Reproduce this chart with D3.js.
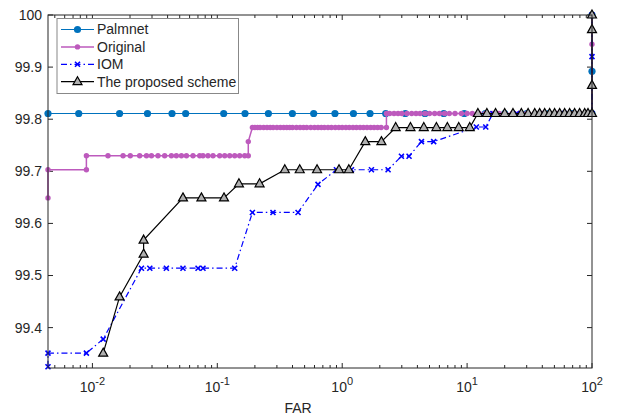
<!DOCTYPE html>
<html>
<head>
<meta charset="utf-8">
<script src="https://cdn.jsdelivr.net/npm/d3@7"></script>
<style>
  body { margin: 0; background: #fff; }
  svg text { font-family: 'Liberation Sans', Arial, sans-serif; fill: #262626; }
</style>
</head>
<body>
<svg id="chart" width="619" height="420"></svg>
<script>
/**
 * FAR curves, log x axis.
 */
const seriesNames = ['Palmnet', 'Original', 'IOM', 'The proposed scheme'];

// Palmnet
const palmX = [0.00441, 0.00777, 0.0165, 0.0276, 0.0434, 0.0558, 0.1125, 0.1667, 0.2565, 0.399, 0.591, 0.875, 1.23, 1.67, 2.23,
    3.2, 4.6, 6.5, 9.5, 14, 20, 30, 45, 70, 100, 100, 100];
const palmY = [99.811, 99.811, 99.811, 99.811, 99.811, 99.811, 99.811, 99.811, 99.811, 99.811, 99.811, 99.811, 99.811, 99.811, 99.811,
    99.811, 99.811, 99.811, 99.811, 99.811, 99.811, 99.811, 99.811, 99.811, 99.811, 99.892, 100];

// Original
const origX = [0.00441, 0.00441, 0.00895, 0.00895, 0.01333, 0.0176, 0.0201, 0.0239, 0.0271, 0.0297, 0.0335, 0.0379, 0.0429, 0.047,
    0.0516, 0.0566, 0.0639, 0.0723, 0.0768, 0.0842, 0.0924, 0.1045, 0.1146, 0.1257, 0.1378, 0.151, 0.1657, 0.177, 0.177,
    0.191, 0.2, 0.21, 0.22, 0.235, 0.25, 0.265, 0.28, 0.3, 0.32, 0.34, 0.36, 0.38, 0.4, 0.43, 0.46, 0.49, 0.52, 0.56, 0.6,
    0.64, 0.68, 0.72, 0.77, 0.82, 0.88, 0.94, 1.0, 1.07, 1.14, 1.22, 1.3, 1.39, 1.48, 1.58, 1.69, 1.8, 1.92, 2.05, 2.26,
    2.26, 2.4, 2.6, 2.8, 3.0, 3.3, 3.6, 3.9, 4.2, 4.6, 5.0, 5.5, 6, 6.6, 7.2, 8, 9, 10, 11, 12.5, 14, 16, 18, 20, 23, 26,
    30, 35, 40, 46, 53, 60, 70, 80, 90, 100, 100, 100];
const origY = [99.649, 99.703, 99.703, 99.73, 99.73, 99.73, 99.73, 99.73, 99.73, 99.73, 99.73, 99.73, 99.73, 99.73,
    99.73, 99.73, 99.73, 99.73, 99.73, 99.73, 99.73, 99.73, 99.73, 99.73, 99.73, 99.73, 99.73, 99.73, 99.757,
    99.784, 99.784, 99.784, 99.784, 99.784, 99.784, 99.784, 99.784, 99.784, 99.784, 99.784, 99.784, 99.784, 99.784, 99.784, 99.784, 99.784, 99.784, 99.784, 99.784,
    99.784, 99.784, 99.784, 99.784, 99.784, 99.784, 99.784, 99.784, 99.784, 99.784, 99.784, 99.784, 99.784, 99.784, 99.784, 99.784, 99.784, 99.784, 99.784, 99.784,
    99.811, 99.811, 99.811, 99.811, 99.811, 99.811, 99.811, 99.811, 99.811, 99.811, 99.811, 99.811, 99.811, 99.811, 99.811, 99.811, 99.811, 99.811, 99.811, 99.811, 99.811, 99.811, 99.811, 99.811, 99.811, 99.811,
    99.811, 99.811, 99.811, 99.811, 99.811, 99.811, 99.811, 99.811, 99.811, 99.811, 99.944, 100];

// IOM
const iomX = [0.00441, 0.00441, 0.00895, 0.0122, 0.0247, 0.0288, 0.0391, 0.0531, 0.0701, 0.0768, 0.1378,
    0.191, 0.279, 0.443, 0.64, 0.899, 1.186, 1.714, 2.33, 2.98, 3.43, 4.31, 5.4, 11.86, 14.1, 16.1,
    25, 40, 60, 100, 100, 100];
const iomY = [99.325, 99.351, 99.351, 99.378, 99.514, 99.514, 99.514, 99.514, 99.514, 99.514, 99.514,
    99.621, 99.621, 99.621, 99.675, 99.703, 99.703, 99.703, 99.703, 99.729, 99.729, 99.757, 99.757, 99.785, 99.785, 99.811,
    99.811, 99.811, 99.811, 99.811, 99.92, 100];

// The proposed scheme
const propX = [0.0122, 0.0165, 0.0257, 0.0257, 0.0531, 0.0746, 0.1131, 0.149, 0.218, 0.347, 0.457, 0.629, 0.943, 1.13,
    1.53, 2.06, 2.68, 3.52, 4.5, 5.68, 6.95, 8.57, 10.5, 12.2, 14.4, 16.9, 20, 23.3, 27.2, 30.8, 34.8, 38.1, 41.8,
    45.8, 50.2, 55.1, 60.4, 66.2, 72.6, 79.6, 87.4, 92.9, 100, 100, 100, 100];
const propY = [99.351, 99.459, 99.541, 99.568, 99.649, 99.649, 99.649, 99.676, 99.676, 99.703, 99.703, 99.703, 99.703, 99.703,
    99.757, 99.757, 99.784, 99.784, 99.784, 99.784, 99.784, 99.784, 99.784, 99.811, 99.811, 99.811, 99.811, 99.811, 99.811, 99.811, 99.811, 99.811, 99.811,
    99.811, 99.811, 99.811, 99.811, 99.811, 99.811, 99.811, 99.811, 99.811, 99.811, 99.865, 99.972, 100];

const yTicks = [99.4, 99.5, 99.6, 99.7, 99.8, 99.9, 100];
const xTicks = [0.01, 0.1, 1, 10, 100];

/**
 * Visual configs.
 */
const margin = { top: 15, right: 27, bottom: 52, left: 48 },
    visWidth = 619, visHeight = 420,
    width = visWidth - margin.left - margin.right,
    height = visHeight - margin.top - margin.bottom;

const xScale = d3.scaleLog().domain([0.00441, 100]).range([0, width]),
    yScale = d3.scaleLinear().domain([99.3225, 100]).range([height, 0]);

const svg = d3.select('#chart');
const g = svg.append('g').attr('transform', 'translate(' + margin.left + ',' + margin.top + ')');

const zip = (xs, ys) => xs.map((x, i) => ({ x: x, y: ys[i] }));
const series = [
    { name: seriesNames[0], data: zip(palmX, palmY), color: '#0072BD', width: 1.2, dash: null, marker: 'circle' },
    { name: seriesNames[1], data: zip(origX, origY), color: '#BD5ABD', width: 1.5, dash: null, marker: 'dot' },
    { name: seriesNames[2], data: zip(iomX, iomY), color: '#0000FF', width: 1.2, dash: '6,3,1.5,3', marker: 'cross' },
    { name: seriesNames[3], data: zip(propX, propY), color: '#000000', width: 1.2, dash: null, marker: 'triangle' }
];

// Ticks (inside, mirrored)
const minor = [];
for (let e = -3; e <= 1; e++) for (let k = 2; k <= 9; k++) {
    const v = k * Math.pow(10, e);
    if (v > 0.00441 && v < 100) minor.push(v);
}
const tickG = g.append('g').attr('stroke', '#262626').attr('stroke-width', 1);
xTicks.forEach(v => {
    const x = xScale(v);
    tickG.append('line').attr('x1', x).attr('x2', x).attr('y1', height).attr('y2', height - 5);
    tickG.append('line').attr('x1', x).attr('x2', x).attr('y1', 0).attr('y2', 5);
});
minor.forEach(v => {
    const x = xScale(v);
    tickG.append('line').attr('x1', x).attr('x2', x).attr('y1', height).attr('y2', height - 3);
    tickG.append('line').attr('x1', x).attr('x2', x).attr('y1', 0).attr('y2', 3);
});
yTicks.forEach(v => {
    const y = yScale(v);
    tickG.append('line').attr('x1', 0).attr('x2', 5).attr('y1', y).attr('y2', y);
    tickG.append('line').attr('x1', width).attr('x2', width - 5).attr('y1', y).attr('y2', y);
});

// Tick labels
g.selectAll('.ylab').data(yTicks).enter().append('text')
    .attr('class', 'ylab')
    .attr('x', -6).attr('y', d => yScale(d)).attr('dy', '0.35em')
    .attr('text-anchor', 'end').attr('font-size', 14)
    .text(d => d === 100 ? '100' : d3.format('.1f')(d));

const xl = g.selectAll('.xlab').data(xTicks).enter().append('text')
    .attr('class', 'xlab')
    .attr('x', d => xScale(d)).attr('y', height + 24)
    .attr('text-anchor', 'middle').attr('font-size', 14);
xl.append('tspan').text('10');
xl.append('tspan').attr('dy', -7).attr('font-size', 11).text(d => String(Math.round(Math.log10(d))));

g.append('text').attr('x', width / 2 - 22).attr('y', height + 45)
    .attr('text-anchor', 'middle').attr('font-size', 14).text('FAR');

// Lines & markers
const line = d3.line().x(d => xScale(d.x)).y(d => yScale(d.y));

function drawMarker(sel, s, x, y) {
    if (s.marker === 'circle') {
        sel.append('circle').attr('cx', x).attr('cy', y).attr('r', 3.6).attr('fill', s.color);
    } else if (s.marker === 'dot') {
        sel.append('circle').attr('cx', x).attr('cy', y).attr('r', 2.7).attr('fill', s.color);
    } else if (s.marker === 'cross') {
        sel.append('path').attr('d', 'M' + (x - 2.5) + ',' + (y - 2.5) + 'L' + (x + 2.5) + ',' + (y + 2.5) +
            'M' + (x - 2.5) + ',' + (y + 2.5) + 'L' + (x + 2.5) + ',' + (y - 2.5))
            .attr('stroke', s.color).attr('stroke-width', 1.6).attr('fill', 'none');
    } else if (s.marker === 'triangle') {
        sel.append('path').attr('d', 'M' + x + ',' + (y - 5) + 'L' + (x + 4.5) + ',' + (y + 3) + 'L' + (x - 4.5) + ',' + (y + 3) + 'Z')
            .attr('stroke', '#000').attr('stroke-width', 1.2).attr('fill', '#b0b0b0');
    }
}

series.forEach(s => {
    const sg = g.append('g').attr('class', 'series');
    sg.append('path').datum(s.data).attr('d', line)
        .attr('fill', 'none').attr('stroke', s.color).attr('stroke-width', s.width)
        .attr('stroke-dasharray', s.dash);
    s.data.forEach(d => drawMarker(sg, s, xScale(d.x), yScale(d.y)));
});

// Axes box
g.append('rect').attr('width', width).attr('height', height)
    .attr('fill', 'none').attr('stroke', '#262626').attr('stroke-width', 1);

// Legend
const leg = g.append('g').attr('transform', 'translate(9,3.5)');
leg.append('rect').attr('width', 181.5).attr('height', 75)
    .attr('fill', '#fff').attr('stroke', '#888').attr('stroke-width', 1);
series.forEach((s, i) => {
    const y = 11 + i * 17.4;
    leg.append('line').attr('x1', 4).attr('x2', 37).attr('y1', y).attr('y2', y)
        .attr('stroke', s.color).attr('stroke-width', s.width).attr('stroke-dasharray', s.dash);
    drawMarker(leg, s, 20.5, y);
    leg.append('text').attr('x', 40).attr('y', y).attr('dy', '0.35em')
        .attr('font-size', 14).text(s.name);
});
</script>
</body>
</html>
